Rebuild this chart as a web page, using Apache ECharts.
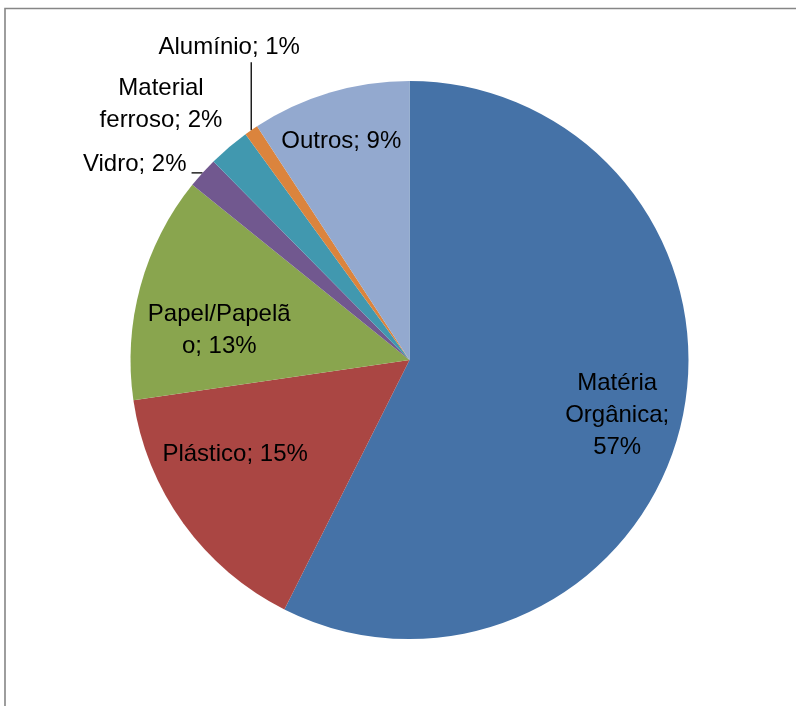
<!DOCTYPE html>
<html>
<head>
<meta charset="utf-8">
<script src="https://cdn.jsdelivr.net/npm/echarts@6/dist/echarts.min.js"></script>
<style>
html,body{margin:0;padding:0;background:#fff;}
#c{width:796px;height:706px;}
</style>
</head>
<body>
<div id="c"></div>
<script>
// ---- data ----
const categories = ['Matéria Orgânica', 'Plástico', 'Papel/Papelão', 'Vidro', 'Material ferroso', 'Alumínio', 'Outros'];
const values = [57.4, 15.3, 13.1, 1.8, 2.4, 0.8, 9.2];
// text of each label as it is wrapped in the picture (name part)
const labelNames = ['Matéria\nOrgânica;\n', 'Plástico; ', 'Papel/Papelã\no; ', 'Vidro; ', 'Material\nferroso; ', 'Alumínio; ', 'Outros; '];
const colors = ['#4572A7', '#AA4643', '#89A54E', '#71588F', '#4198AF', '#DB843D', '#93A9CF'];

// ---- layout / style ----
const CX = 409.5, CY = 360, R = 279;
const labelKind = ['in', 'in', 'in', 'out', 'out', 'out', 'in'];
const labelDist = [0.77, 0.71, 0.69, 0, 0, 0, 0.82];   // fraction of radius for inside labels
const labelTurn = [1.5, 7.5, -6.5, 0, 0, 0, -0.8];      // angular nudge (deg) for inside labels

const chart = echarts.init(document.getElementById('c'), null, {renderer: 'canvas'});

const data = categories.map((n, i) => ({
  name: n,
  value: values[i],
  itemStyle: {color: colors[i]},
  label: {position: labelKind[i] === 'in' ? 'inside' : 'outside'},
  labelLine: {show: labelKind[i] === 'out' && i !== 4}
}));

chart.setOption({
  animation: false,
  backgroundColor: '#ffffff',
  graphic: [{
    type: 'rect',
    shape: {x: 5, y: 8.5, width: 1000, height: 1000},
    style: {fill: 'none', stroke: '#868686', lineWidth: 1.6},
    silent: true
  }],
  series: [{
    type: 'pie',
    center: [CX, CY],
    radius: R,
    startAngle: 90,
    clockwise: true,
    avoidLabelOverlap: false,
    itemStyle: {borderWidth: 0},
    label: {
      color: '#000',
      fontFamily: 'Liberation Sans',
      fontSize: 24,
      lineHeight: 32,
      align: 'center',
      formatter: p => labelNames[p.dataIndex] + Math.round(p.percent) + '%'
    },
    labelLine: {
      lineStyle: {color: '#000', width: 1.3},
      length: 10, length2: 5
    },
    labelLayout: function (p) {
      const i = p.dataIndex;
      if (labelKind[i] === 'in') {
        const r = p.labelRect;
        const lx = r.x + r.width / 2, ly = r.y + r.height / 2;
        const ang = Math.atan2(ly - CY, lx - CX) + labelTurn[i] * Math.PI / 180;
        const d = R * labelDist[i];
        return {x: CX + d * Math.cos(ang), y: CY + d * Math.sin(ang), align: 'center', verticalAlign: 'middle'};
      }
      const a = p.labelLinePoints[0];
      if (i === 3) { // Vidro: short horizontal leader to the left
        return {x: a[0] - 16, y: a[1] - 9, align: 'right', verticalAlign: 'middle',
          labelLinePoints: [[a[0], a[1]], [a[0] - 11, a[1]], [a[0] - 11, a[1]]]};
      }
      if (i === 4) { // Material ferroso: no leader
        return {x: a[0] - 68, y: a[1] - 43, align: 'center', verticalAlign: 'middle'};
      }
      // Alumínio: vertical leader up to the label
      return {x: a[0] - 22, y: a[1] - 83, align: 'center', verticalAlign: 'middle',
        labelLinePoints: [[a[0], a[1]], [a[0], a[1] - 68], [a[0], a[1] - 68]]};
    },
    data: data
  }]
});
</script>
</body>
</html>
